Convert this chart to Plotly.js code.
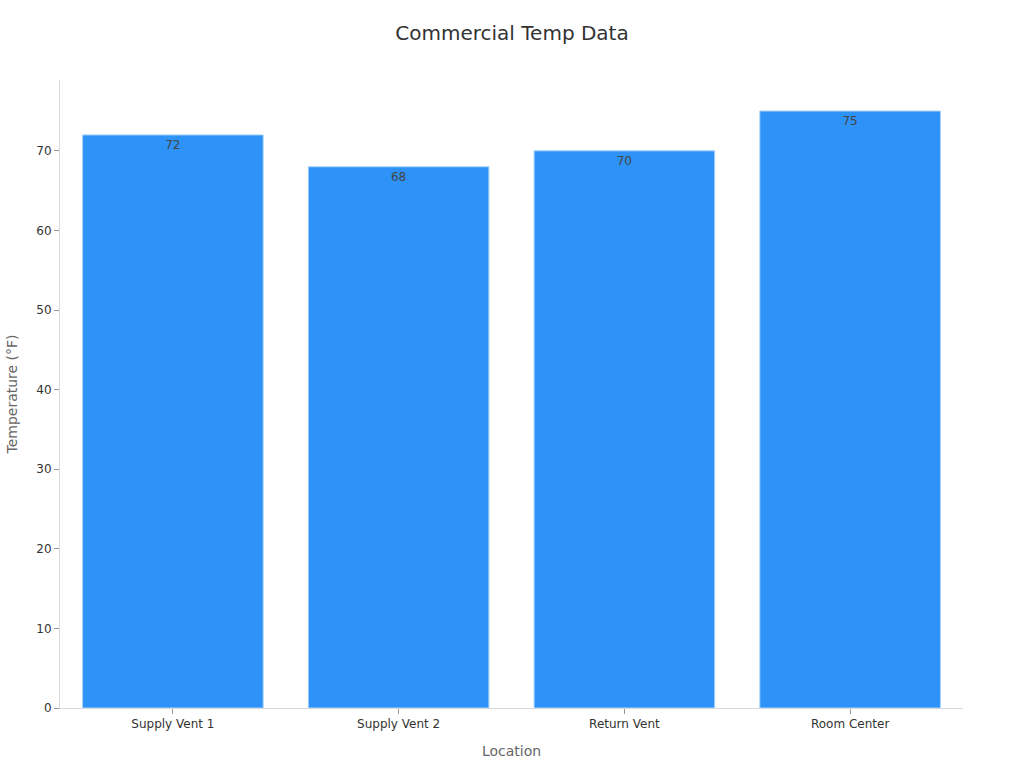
<!DOCTYPE html>
<html>
<head>
<meta charset="utf-8">
<script src="https://cdn.plot.ly/plotly-3.0.1.min.js"></script>
<style>
  html, body { margin: 0; padding: 0; background: #fff; }
  #chart { width: 1024px; height: 768px; }
</style>
</head>
<body>
<div id="chart"></div>
<script>
const locations = ['Supply Vent 1', 'Supply Vent 2', 'Return Vent', 'Room Center'];
const temps = [72, 68, 70, 75];

var trace = {
    x: locations,
    y: temps,
    type: 'bar',
    text: temps.map(String),
    textposition: 'inside',
    insidetextanchor: 'end',
    textfont: { color: '#444444', size: 12 },
    marker: {
        color: '#2E93F9',
        line: { color: '#A9D2FA', width: 1 }
    },
    hoverinfo: 'x+y'
};

const layout = {
    title: {
        text: 'Commercial Temp Data',
        font: { size: 20, color: '#333333' },
        x: 0.5,
        y: 0.966
    },
    font: { family: 'DejaVu Sans, sans-serif', color: '#333333' },
    width: 1024,
    height: 768,
    margin: { l: 60, r: 61, t: 80, b: 60 },
    paper_bgcolor: '#ffffff',
    plot_bgcolor: '#ffffff',
    bargap: 0.2,
    showlegend: false,
    xaxis: {
        title: { text: 'Location', font: { size: 14, color: '#666666' }, standoff: 15 },
        showline: true,
        linecolor: '#d9d9d9',
        linewidth: 1,
        ticks: 'outside',
        tickcolor: '#999999',
        ticklen: 5,
        tickfont: { size: 12, color: '#333333' },
        showgrid: false
    },
    yaxis: {
        title: { text: 'Temperature (°F)', font: { size: 14, color: '#666666' }, standoff: 15 },
        range: [0, 78.9],
        dtick: 10,
        showline: true,
        linecolor: '#d9d9d9',
        linewidth: 1,
        ticks: 'outside',
        tickcolor: '#999999',
        ticklen: 5,
        tickfont: { size: 12, color: '#333333' },
        showgrid: false,
        zeroline: false
    }
};

Plotly.newPlot('chart', [trace], layout, { displayModeBar: false, staticPlot: true });
</script>
</body>
</html>
